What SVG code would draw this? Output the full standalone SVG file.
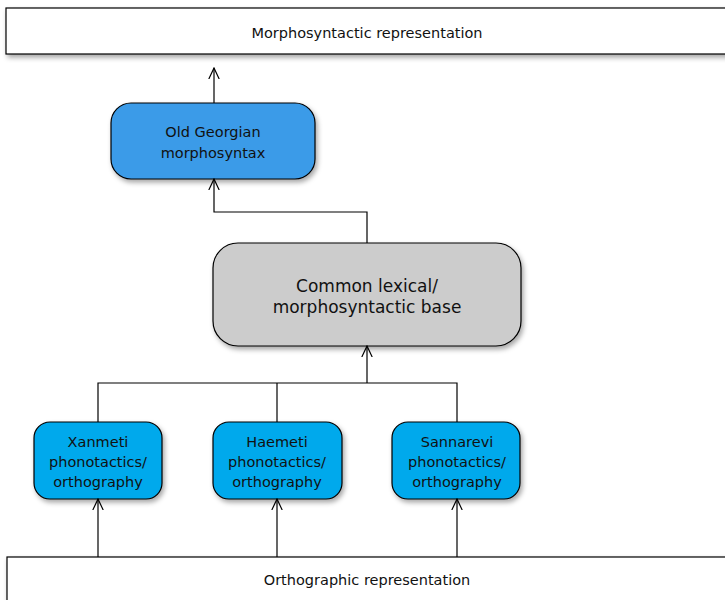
<svg xmlns="http://www.w3.org/2000/svg" width="725" height="600" viewBox="0 0 725 600">
<style>
.t{font-family:"DejaVu Sans",Verdana,sans-serif;font-size:14.5px;fill:#111;text-anchor:middle}
.big{font-size:17px}
.c{fill:none;stroke:#000;stroke-width:1.2}
.box{stroke:#000;stroke-width:1.2}
</style>
<defs>
<filter id="sh" x="-10%" y="-10%" width="130%" height="140%">
<feDropShadow dx="2" dy="3" stdDeviation="2.5" flood-color="#000" flood-opacity="0.35"/>
</filter>
<marker id="a" viewBox="0 0 12 12" refX="11" refY="6" markerWidth="12" markerHeight="12" markerUnits="userSpaceOnUse" orient="auto">
<path d="M0,0.8 L11,6 L0,11.2" fill="none" stroke="#000" stroke-width="1.2"/>
</marker>
</defs>
<g id="morph-rep">
<rect class="box" x="6" y="8" width="730" height="46" fill="#fff" filter="url(#sh)"/>
<text class="t" x="367" y="38">Morphosyntactic representation</text>
</g>
<g id="ortho-rep">
<rect class="box" x="7" y="557" width="730" height="60" fill="#fff" filter="url(#sh)"/>
<text class="t" x="367" y="585">Orthographic representation</text>
</g>
<g id="old-georgian">
<rect class="box" x="111" y="103" width="204" height="76" rx="20" fill="#3a9be8" filter="url(#sh)"/>
<text class="t" x="213" y="137">Old Georgian</text>
<text class="t" x="213" y="158">morphosyntax</text>
</g>
<g id="common-base">
<rect class="box" x="213" y="243" width="308" height="103" rx="25" fill="#cccccc" filter="url(#sh)"/>
<text class="t big" x="367" y="292">Common lexical/</text>
<text class="t big" x="367" y="313">morphosyntactic base</text>
</g>
<g id="xanmeti">
<rect class="box" x="34" y="422" width="128" height="77" rx="16" fill="#00a9ec" filter="url(#sh)"/>
<text class="t" x="98" y="447">Xanmeti</text>
<text class="t" x="98" y="467">phonotactics/</text>
<text class="t" x="98" y="487">orthography</text>
</g>
<g id="haemeti">
<rect class="box" x="213" y="422" width="129" height="77" rx="16" fill="#00a9ec" filter="url(#sh)"/>
<text class="t" x="277" y="447">Haemeti</text>
<text class="t" x="277" y="467">phonotactics/</text>
<text class="t" x="277" y="487">orthography</text>
</g>
<g id="sannarevi">
<rect class="box" x="392" y="422" width="128" height="77" rx="16" fill="#00a9ec" filter="url(#sh)"/>
<text class="t" x="457" y="447">Sannarevi</text>
<text class="t" x="457" y="467">phonotactics/</text>
<text class="t" x="457" y="487">orthography</text>
</g>
<g id="connectors">
<path class="c" d="M214,103 L214,68" marker-end="url(#a)"/>
<path class="c" d="M367,243 L367,212 L214,212 L214,179" marker-end="url(#a)"/>
<path class="c" d="M98,422 L98,383 L457,383 L457,422"/>
<path class="c" d="M277,422 L277,383"/>
<path class="c" d="M367,383 L367,346" stroke-width="2" marker-end="url(#a)"/>
<path class="c" d="M98,557 L98,499" marker-end="url(#a)"/>
<path class="c" d="M277,557 L277,499" marker-end="url(#a)"/>
<path class="c" d="M457,557 L457,499" marker-end="url(#a)"/>
</g>
</svg>
